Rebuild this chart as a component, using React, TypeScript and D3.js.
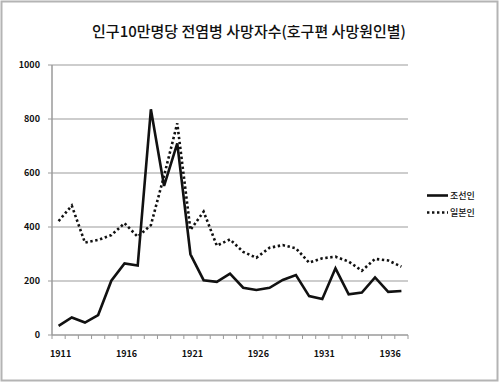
import React from "react";
import * as d3 from "d3";

const years = d3.range(1911, 1938).map(String);
const joseon = [34, 65, 46, 74, 201, 265, 257, 836, 552, 710, 299, 203, 197, 227, 175, 167, 175, 204, 222, 144, 133, 247, 151, 157, 213, 160, 163];
const japanese = [422, 479, 342, 352, 370, 414, 364, 407, 590, 784, 389, 457, 331, 354, 308, 286, 323, 333, 321, 268, 284, 290, 272, 238, 282, 276, 253];
const yTicks = [0, 200, 400, 600, 800, 1000];
const xLabels = ["1911", "1916", "1921", "1926", "1931", "1936"];
const seriesNames = ["조선인", "일본인"];
const title = "인구10만명당 전염병 사망자수(호구편 사망원인별)";

const W = 500, H = 383;
const left = 52, right = 408, top = 65, bottom = 335;
const font = "'Noto Sans CJK KR', 'Noto Sans', sans-serif";

export default function App() {
  const x = d3.scaleBand<string>().domain(years).range([left, right]);
  const y = d3.scaleLinear().domain([0, 1000]).range([bottom, top]);
  const cx = (yr: string) => (x(yr) as number) + x.bandwidth() / 2;
  const line = d3.line<number>().x((_, i) => cx(years[i])).y((d) => y(d));
  const boundaries = years.map((yr) => x(yr) as number).concat([right]);

  return (
    <svg width={W} height={H} style={{ position: "absolute", left: 0, top: 0, background: "#fff" }}>
      <rect x={1.5} y={1.5} width={W - 4} height={H - 4} fill="#fff" stroke="#b4b4b4" strokeWidth={2} />
      <text x={249} y={37} textAnchor="middle" fontFamily={font} fontSize={15} fontWeight={500} fill="#111">{title}</text>
      {yTicks.map((t) => (
        <g key={t}>
          {t > 0 && <line x1={left} x2={right} y1={y(t)} y2={y(t)} stroke="#bdbdbd" strokeWidth={1.5} />}
          <line x1={left - 4} x2={left} y1={y(t)} y2={y(t)} stroke="#9a9a9a" strokeWidth={1} />
          <text x={40} y={y(t)} dy="0.35em" textAnchor="end" fontFamily={font} fontSize={9} fontWeight={700} fill="#111">{t}</text>
        </g>
      ))}
      <line x1={left} x2={left} y1={top} y2={bottom} stroke="#9a9a9a" strokeWidth={1.5} />
      <line x1={left} x2={right} y1={bottom} y2={bottom} stroke="#9a9a9a" strokeWidth={1.5} />
      {boundaries.map((b, i) => (
        <line key={i} x1={b} x2={b} y1={bottom} y2={bottom + 4} stroke="#9a9a9a" strokeWidth={1} />
      ))}
      {xLabels.map((l) => (
        <text key={l} x={cx(l) + 2} y={357} textAnchor="middle" fontFamily={font} fontSize={9} fontWeight={700} fill="#111">{l}</text>
      ))}
      <path d={line(japanese) || ""} fill="none" stroke="#111" strokeWidth={2.6} strokeDasharray="2.4,2.6" />
      <path d={line(joseon) || ""} fill="none" stroke="#111" strokeWidth={2.6} strokeLinejoin="miter" />
      <line x1={427} x2={448} y1={195.5} y2={195.5} stroke="#111" strokeWidth={2.6} />
      <text x={450} y={195.5} dy="0.35em" fontFamily={font} fontSize={9} fontWeight={500} fill="#111">{seriesNames[0]}</text>
      <line x1={427} x2={448} y1={212.5} y2={212.5} stroke="#111" strokeWidth={2.6} strokeDasharray="2.4,2.6" />
      <text x={450} y={212.5} dy="0.35em" fontFamily={font} fontSize={9} fontWeight={500} fill="#111">{seriesNames[1]}</text>
    </svg>
  );
}
